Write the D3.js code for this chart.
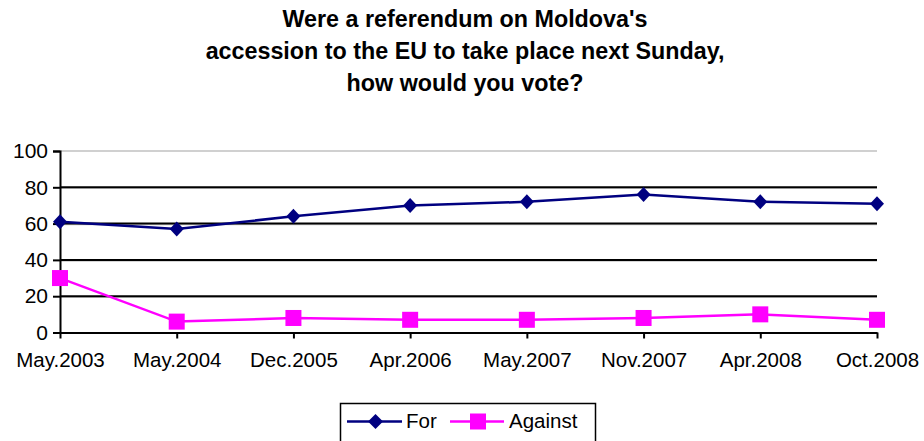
<!DOCTYPE html>
<html><head><meta charset="utf-8">
<script src="https://cdn.jsdelivr.net/npm/d3@7"></script>
<style>body{margin:0;background:#fff;}svg{display:block;font-family:"Liberation Sans",Arial,sans-serif;}</style>
</head><body>
<svg id="c" width="924" height="441"></svg>
<script>
const categories = ["May.2003","May.2004","Dec.2005","Apr.2006","May.2007","Nov.2007","Apr.2008","Oct.2008"];
const forValues = [61,57,64,70,72,76,72,71];
const againstValues = [30,6,8,7,7,8,10,7];
const yTicks = [0,20,40,60,80,100];
const titleLines = ["Were a referendum on Moldova's","accession to the EU to take place next Sunday,","how would you vote?"];
const seriesNames = ["For","Against"];

const svg = d3.select("#c");
const L = 60, R = 877, T = 151, B = 332.5;
const x = d3.scalePoint().domain(categories).range([L, R]);
const y = d3.scaleLinear().domain([0,100]).range([B, T]);
const FF = "Liberation Sans, Arial, sans-serif";

// title
svg.append("g").selectAll("text").data(titleLines).join("text")
  .attr("x", 465).attr("y", (d,i)=>27+i*32).attr("text-anchor","middle")
  .attr("font-size",23.3).attr("font-weight","bold").text(d=>d);

// gridlines
const grid = svg.append("g");
yTicks.filter(t=>t>0).forEach(t=>{
  if (t===100) {
    grid.append("line").attr("x1",L).attr("x2",R).attr("y1",y(t)).attr("y2",y(t)).attr("stroke","#c0c0c0").attr("stroke-width",1.5);
  } else {
    grid.append("line").attr("x1",L).attr("x2",R).attr("y1",y(t)+1).attr("y2",y(t)+1).attr("stroke","#c8c8c8").attr("stroke-width",1.5);
    grid.append("line").attr("x1",L).attr("x2",R).attr("y1",y(t)).attr("y2",y(t)).attr("stroke","#000").attr("stroke-width",2);
  }
});

// axes
const yAxis = svg.append("g").attr("transform",`translate(${L},0)`)
  .call(d3.axisLeft(y).tickValues(yTicks).tickSize(7).tickPadding(5));
yAxis.select(".domain").attr("stroke","#000").attr("stroke-width",2);
yAxis.selectAll(".tick line").attr("stroke","#000").attr("stroke-width",2);
yAxis.selectAll("text").attr("font-size",21).attr("fill","#000").attr("font-family",FF);

const xAxis = svg.append("g").attr("transform",`translate(0,${B})`)
  .call(d3.axisBottom(x).tickSize(6).tickPadding(14).tickSizeOuter(0));
xAxis.select(".domain").attr("stroke","#000").attr("stroke-width",2);
xAxis.selectAll(".tick line").attr("stroke","#000").attr("stroke-width",2);
xAxis.selectAll("text").attr("font-size",20.5).attr("fill","#000").attr("font-family",FF);

// series
const navy = "#000080", pink = "#ff00ff";
const line = d3.line().x((d,i)=>x(categories[i])).y(d=>y(d));
svg.append("path").datum(forValues).attr("d",line).attr("fill","none").attr("stroke",navy).attr("stroke-width",2.5);
svg.append("path").datum(againstValues).attr("d",line).attr("fill","none").attr("stroke",pink).attr("stroke-width",2.5);

svg.append("g").selectAll("path").data(forValues).join("path")
  .attr("transform",(d,i)=>`translate(${x(categories[i])},${y(d)})`)
  .attr("d", "M0,-7.5L7,0L0,7.5L-7,0Z").attr("fill",navy);
svg.append("g").selectAll("rect").data(againstValues).join("rect")
  .attr("x",(d,i)=>x(categories[i])-8).attr("y",d=>y(d)-8)
  .attr("width",16).attr("height",16).attr("fill",pink);

// legend
const lg = svg.append("g");
lg.append("rect").attr("x",340.5).attr("y",403.5).attr("width",255).attr("height",40)
  .attr("fill","#fff").attr("stroke","#000").attr("stroke-width",1.5);
const ly = 421.5;
lg.append("line").attr("x1",347).attr("x2",402).attr("y1",ly).attr("y2",ly).attr("stroke",navy).attr("stroke-width",2.5);
lg.append("path").attr("transform",`translate(375.5,${ly})`).attr("d","M0,-7.5L7.5,0L0,7.5L-7.5,0Z").attr("fill",navy);
lg.append("text").attr("x",406).attr("y",428).attr("font-size",20.5).text(seriesNames[0]);
lg.append("line").attr("x1",450).attr("x2",504).attr("y1",ly).attr("y2",ly).attr("stroke",pink).attr("stroke-width",2.5);
lg.append("rect").attr("x",470).attr("y",ly-8).attr("width",16).attr("height",16).attr("fill",pink);
lg.append("text").attr("x",509).attr("y",428).attr("font-size",20.5).text(seriesNames[1]);
</script>
</body></html>
